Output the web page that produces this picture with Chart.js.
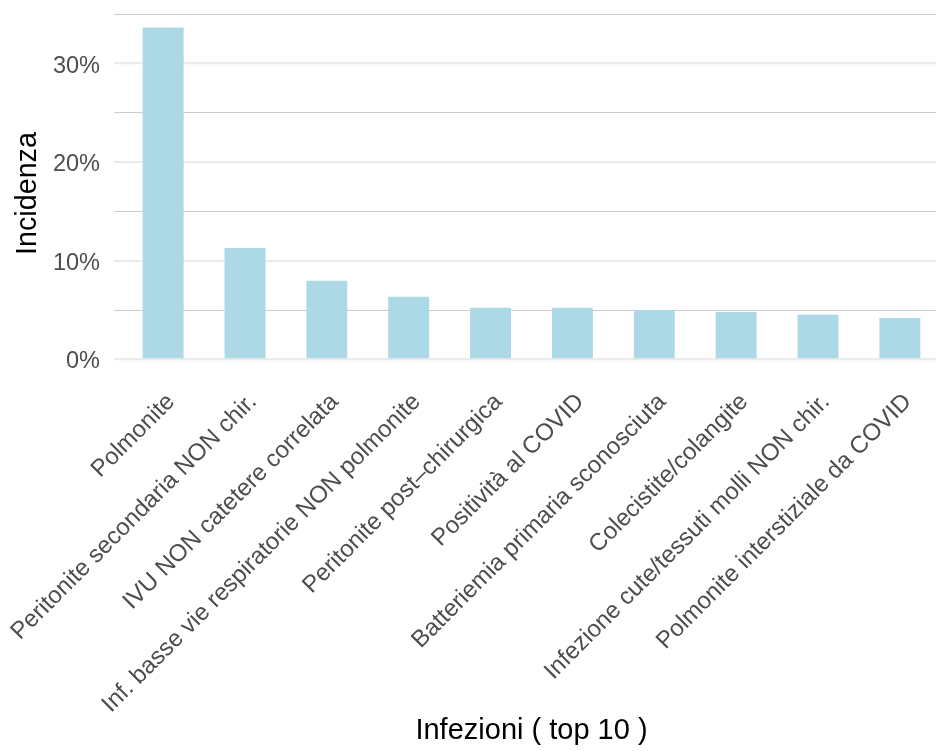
<!DOCTYPE html>
<html>
<head>
<meta charset="utf-8">
<script src="https://cdn.jsdelivr.net/npm/chart.js@4.4.1/dist/chart.umd.min.js"></script>
<style>
  html, body { margin: 0; padding: 0; background: #fff; overflow: hidden; }
  /* the original panel runs a little past the right edge of the picture */
  #wrap { width: 949px; height: 751px; position: relative; }
</style>
</head>
<body>
<div id="wrap"><canvas id="chart"></canvas></div>
<script>
// values (percent)
const categories = [
  'Polmonite',
  'Peritonite secondaria NON chir.',
  'IVU NON catetere correlata',
  'Inf. basse vie respiratorie NON polmonite',
  'Peritonite post\u2013chirurgica',
  'Positività al COVID',
  'Batteriemia primaria sconosciuta',
  'Colecistite/colangite',
  'Infezione cute/tessuti molli NON chir.',
  'Polmonite interstiziale da COVID'
];
const incidenza = [33.65, 11.3, 7.97, 6.35, 5.23, 5.23, 5.0, 4.82, 4.52, 4.21];
const yTicks = [0, 5, 10, 15, 20, 25, 30, 35];

const FONT = '"Liberation Sans", Arial, Helvetica, sans-serif';

const points = incidenza.map((v, i) => ({ x: i, y: v }));

new Chart(document.getElementById('chart').getContext('2d'), {
  type: 'bar',
  data: {
    datasets: [{
      data: points,
      backgroundColor: '#add8e6',
      borderWidth: 0,
      barPercentage: 0.5,
      categoryPercentage: 1
    }]
  },
  options: {
    responsive: true,
    maintainAspectRatio: false,
    animation: false,
    layout: { padding: { top: 11, left: 0, right: 0, bottom: 0 } },
    plugins: { legend: { display: false }, tooltip: { enabled: false } },
    scales: {
      x: {
        type: 'linear',
        offset: false,
        min: -0.6,
        max: 9.6,
        afterBuildTicks: s => { s.ticks = categories.map((c, i) => ({ value: i })); },
        afterFit: s => {
          s.height = 375;
          s.paddingLeft = 0;
          s.paddingRight = 0;
        },
        grid: { display: false, offset: false },
        border: { display: false },
        ticks: {
          autoSkip: false,
          maxRotation: 45,
          minRotation: 45,
          padding: 4,
          labelOffset: 8,
          color: '#4d4d4d',
          font: { family: FONT, size: 24 },
          callback: v => categories[v]
        },
        title: {
          display: true,
          text: 'Infezioni ( top 10 )',
          color: '#000',
          font: { family: FONT, size: 29 },
          padding: { top: 0, bottom: 3 }
        }
      },
      y: {
        min: -1.68,
        max: 35.33,
        afterBuildTicks: s => { s.ticks = yTicks.map(v => ({ value: v })); },
        afterFit: s => {
          s.width = 114;
          s.paddingTop = 0;
          s.paddingBottom = 0;
        },
        border: { display: false },
        grid: {
          drawTicks: false,
          color: c => (c.tick && c.tick.value % 10 === 0) ? '#ebebeb' : '#cccccc',
          lineWidth: c => (c.tick && c.tick.value % 10 === 0) ? 2.2 : 1.1
        },
        ticks: {
          padding: 14,
          labelOffset: 2.5,
          color: '#4d4d4d',
          font: { family: FONT, size: 23.5 },
          callback: v => (v % 10 === 0 ? v + '%' : '')
        },
        title: {
          display: true,
          text: 'Incidenza',
          color: '#000',
          font: { family: FONT, size: 28.7 },
          padding: { top: 11, bottom: 0 }
        }
      }
    }
  }
});
</script>
</body>
</html>
